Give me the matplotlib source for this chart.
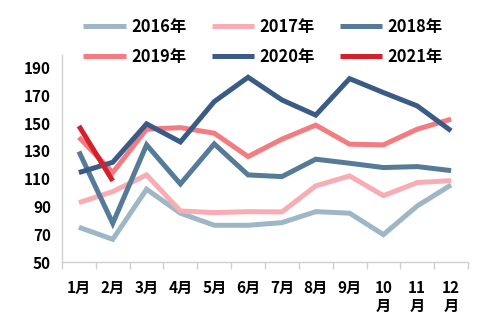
import numpy as np
import matplotlib.pyplot as plt

plt.rcParams['font.family'] = ['Noto Sans CJK SC', 'DejaVu Sans']
plt.rcParams['font.weight'] = 'bold'

months = ['1月', '2月', '3月', '4月', '5月', '6月', '7月', '8月', '9月',
          '10\n月', '11\n月', '12\n月']
y2016 = [75.2, 66.5, 102.5, 85.3, 76.6, 76.6, 78.5, 86.4, 85.3, 69.9, 90.5, 105.6]
y2017 = [92.9, 100.8, 112.8, 86.9, 85.7, 86.4, 86.2, 104.9, 112.1, 97.9, 107.3, 108.7]
y2018 = [129.6, 78.0, 134.4, 106.3, 135.1, 112.8, 111.6, 124.1, 121.2, 118.1, 118.8, 115.9]
y2019 = [139.9, 114.5, 145.7, 146.8, 142.8, 126.0, 138.5, 148.6, 134.9, 134.4, 145.7, 152.9]
y2020 = [114.5, 121.9, 149.5, 136.5, 165.5, 183.0, 166.7, 155.8, 182.0, 172.0, 162.4, 144.5]
y2021 = [148.0, 108.5]

series = [
    ('2016年', y2016, '#9fb6c6'),
    ('2017年', y2017, '#f7adb3'),
    ('2018年', y2018, '#557b98'),
    ('2019年', y2019, '#f47b7f'),
    ('2020年', y2020, '#3b5b87'),
    ('2021年', y2021, '#d41f2c'),
]

fig = plt.figure(figsize=(4.88, 3.36), dpi=100)
ax = fig.add_axes([62 / 488, 1 - 262.3 / 336, 406 / 488, (262.3 - 55) / 336])

x = np.arange(len(months))
lines = []
for name, vals, col in series:
    ln, = ax.plot(x[:len(vals)], vals, color=col, lw=3.6, label=name,
                  solid_capstyle='butt', solid_joinstyle='miter')
    lines.append(ln)

ax.set_xlim(-0.5, 11.5)
ax.set_ylim(50, 199)
ax.set_yticks(np.arange(50, 191, 20))
ax.tick_params(axis='y', length=0, labelsize=11, pad=8)
ax.set_xticks(np.arange(-0.5, 12, 1), minor=False)
ax.set_xticklabels([])
ax.set_xticks(x, minor=True)
ax.set_xticklabels(months, minor=True, fontsize=11, linespacing=1.1)
ax.tick_params(axis='x', which='major', length=5, color='#d0d0d0', width=1)
ax.tick_params(axis='x', which='minor', length=0, pad=13)
for lab in ax.get_xticklabels(minor=True):
    lab.set_verticalalignment('top')

for s in ['top', 'right']:
    ax.spines[s].set_visible(False)
for s in ['left', 'bottom']:
    ax.spines[s].set_color('#d0d0d0')
    ax.spines[s].set_linewidth(1)

# legend is filled column by column, so reorder to read row by row
order = [0, 3, 1, 4, 2, 5]
fig.legend([lines[i] for i in order], [series[i][0] for i in order],
           loc='center', bbox_to_anchor=(263 / 488, 1 - 42 / 336), ncol=3,
           frameon=False, fontsize=11.8, handlelength=2.6, handletextpad=0.3,
           columnspacing=1.55, labelspacing=0.75)

fig.savefig('out.png', dpi=100)
